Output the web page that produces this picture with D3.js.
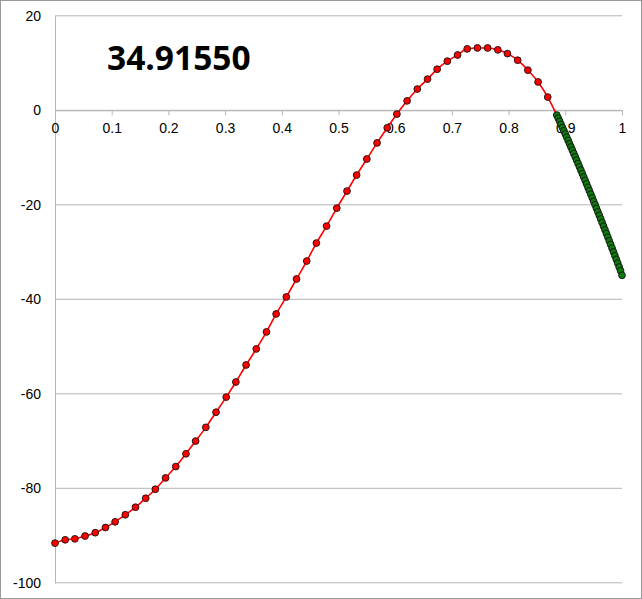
<!DOCTYPE html>
<html><head><meta charset="utf-8">
<script src="https://cdn.jsdelivr.net/npm/d3@7"></script>
<style>body{margin:0;background:#fff}svg{display:block}</style>
</head><body>
<script>
const title = "34.91550";
const yTicks = [20, 0, -20, -40, -60, -80, -100];
const xTicks = [0, 0.1, 0.2, 0.3, 0.4, 0.5, 0.6, 0.7, 0.8, 0.9, 1];
const redX = [0,.018,.035,.053,.071,.089,.106,.124,.142,.160,.177,.195,.213,.231,.248,.266,.284,.302,.319,.337,.355,.373,.390,.408,.426,.444,.461,.479,.497,.515,.532,.550,.568,.586,.603,.621,.639,.657,.674,.692,.710,.727,.745,.763,.781,.798,.816,.834,.852,.869];
const redY = [-91.6,-90.9,-90.7,-90.1,-89.4,-88.3,-87.1,-85.6,-84.0,-82.1,-80.2,-77.8,-75.4,-72.7,-70.0,-67.1,-63.9,-60.7,-57.5,-53.9,-50.5,-46.9,-43.1,-39.5,-35.7,-31.9,-28.1,-24.5,-20.7,-17.1,-13.7,-10.3,-6.9,-3.7,-0.8,2.0,4.5,6.6,8.7,10.4,11.7,13.0,13.2,13.2,12.8,12.0,10.6,8.5,6.0,2.8];
const greenX = [.885,.8875,.89,.8925,.895,.8975,.9,.9025,.905,.9075,.91,.9125,.915,.9175,.92,.9225,.925,.9275,.93,.9325,.935,.9375,.94,.9425,.945,.9475,.95,.9525,.955,.9575,.96,.9625,.965,.9675,.97,.9725,.975,.9775,.98,.9825,.985,.9875,.99,.9925,.995,.9975,1];
const greenY = [-1.0,-1.66,-2.32,-2.99,-3.66,-4.34,-5.01,-5.69,-6.38,-7.07,-7.76,-8.45,-9.15,-9.85,-10.55,-11.26,-11.97,-12.68,-13.40,-14.12,-14.84,-15.57,-16.30,-17.03,-17.76,-18.50,-19.25,-19.99,-20.74,-21.49,-22.25,-23.00,-23.77,-24.53,-25.30,-26.07,-26.84,-27.62,-28.40,-29.19,-29.97,-30.77,-31.56,-32.36,-33.16,-33.96,-34.92];

const W = 642, H = 599;
const svg = d3.select("body").append("svg").attr("width", W).attr("height", H);
svg.append("rect").attr("x",0.5).attr("y",0.5).attr("width",W-1).attr("height",H-1).attr("fill","#fff").attr("stroke","#999");
const x = d3.scaleLinear().domain([0,1]).range([55,622]);
const y = d3.scaleLinear().domain([-100,20]).range([582.8,15.8]);
const font = "Helvetica, 'Liberation Sans', Arial, sans-serif";

svg.append("g").selectAll("line").data(yTicks).join("line")
  .attr("x1",x(0)).attr("x2",x(1)).attr("y1",d=>y(d)).attr("y2",d=>y(d))
  .attr("stroke","#b5b5b5").attr("stroke-width",1);
const ya = svg.append("g").attr("transform",`translate(${x(0)},0)`)
  .call(d3.axisLeft(y).tickValues(yTicks).tickSize(0).tickPadding(14).tickFormat(d=>String(d)));
ya.select(".domain").attr("stroke","#b5b5b5");
ya.selectAll("text").attr("font-family",font).attr("font-size",14).attr("fill","#000");
const xa = svg.append("g").attr("transform",`translate(0,${y(0)})`)
  .call(d3.axisBottom(x).tickValues(xTicks).tickSize(5).tickPadding(8).tickSizeOuter(0).tickFormat(d=>String(d)));
xa.select(".domain").attr("stroke","#b5b5b5");
xa.selectAll("line").attr("stroke","#b5b5b5");
xa.selectAll("text").attr("font-family",font).attr("font-size",14).attr("fill","#000");

const lineData = redX.map((v,i)=>[v,redY[i]]).concat([[greenX[0],greenY[0]]]);
svg.append("path").datum(lineData)
  .attr("d", d3.line().x(d=>x(d[0])).y(d=>y(d[1])).curve(d3.curveMonotoneX))
  .attr("fill","none").attr("stroke","#ff0000").attr("stroke-width",1.6);
svg.append("g").selectAll("circle").data(redX.map((v,i)=>[v,redY[i]])).join("circle")
  .attr("cx",d=>x(d[0])).attr("cy",d=>y(d[1])).attr("r",3.4)
  .attr("fill","#ff0000").attr("stroke","#111").attr("stroke-width",0.9);
svg.append("g").selectAll("circle").data(greenX.map((v,i)=>[v,greenY[i]])).join("circle")
  .attr("cx",d=>x(d[0])).attr("cy",d=>y(d[1])).attr("r",3.4)
  .attr("fill","#0f7a0f").attr("stroke","#111").attr("stroke-width",0.9);

svg.append("text").attr("x",107).attr("y",70).text(title)
  .attr("font-family","'Open Sans', 'Liberation Sans', sans-serif").attr("font-weight","bold")
  .attr("font-size",33.5).attr("fill","#000");
</script>
</body></html>
